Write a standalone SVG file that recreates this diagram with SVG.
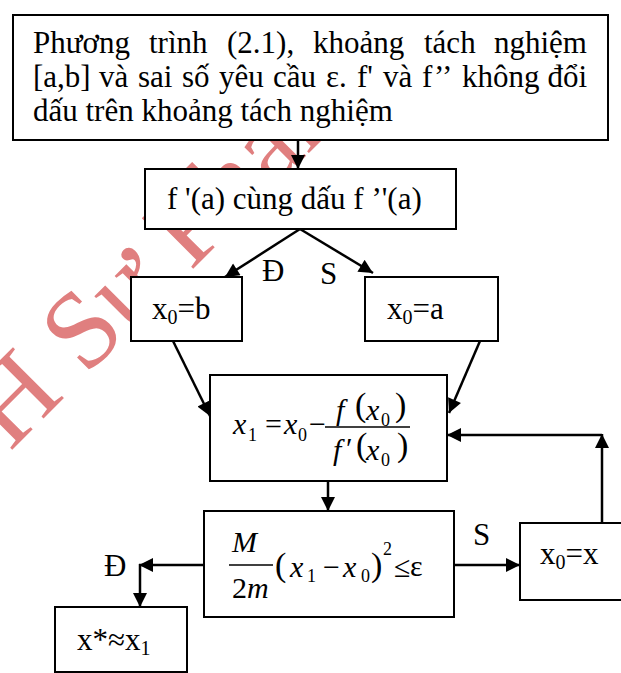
<svg xmlns="http://www.w3.org/2000/svg" width="621" height="673" viewBox="0 0 621 673">
<style>
.box{fill:#fff;stroke:#000;stroke-width:2}
.t{font-family:"Liberation Serif","Times New Roman",serif;font-size:31px;fill:#000}
.m{font-family:"Liberation Serif","Times New Roman",serif;font-size:30px;font-style:italic;fill:#000}
.u{font-family:"Liberation Serif","Times New Roman",serif;font-size:30px;fill:#000}
.s{font-family:"Liberation Serif","Times New Roman",serif;font-size:18px;fill:#000}
.p{font-family:"Liberation Serif","Times New Roman",serif;font-size:34px;fill:#000}
.edge{stroke:#000;stroke-width:2.5;fill:none}
.wm{font-family:"Liberation Serif","Times New Roman",serif;font-size:110px;fill:#e07f7f}
</style>
<defs>
<marker id="ah" viewBox="0 0 10 10" refX="10" refY="5" markerWidth="15" markerHeight="14" markerUnits="userSpaceOnUse" orient="auto"><path d="M0,0L10,5L0,10z" fill="#000"/></marker>
</defs>
<rect width="621" height="673" fill="#fff"/>
<g id="watermark"><text class="wm" transform="translate(10,452) rotate(-45)">H Sư Phạm</text></g>

<g id="connectors">
<path class="edge" d="M298,140V169" marker-end="url(#ah)"/>
<path class="edge" d="M300,229L225,277" marker-end="url(#ah)"/>
<path class="edge" d="M300,229L373,273" marker-end="url(#ah)"/>
<path class="edge" d="M173,341L210,416" marker-end="url(#ah)"/>
<path class="edge" d="M480,341L449,413" marker-end="url(#ah)"/>
<path class="edge" d="M328,481V511" marker-end="url(#ah)"/>
<path class="edge" d="M454,565H520" marker-end="url(#ah)"/>
<path class="edge" d="M204,565H139" marker-end="url(#ah)"/>
<path class="edge" d="M140,564V607" marker-end="url(#ah)"/>
<path class="edge" d="M602,523V434" marker-end="url(#ah)"/>
<path class="edge" d="M602,435H447" marker-end="url(#ah)"/>
<text class="t" x="262" y="281" font-size="30">Đ</text>
<text class="t" x="320" y="284" font-size="30">S</text>
<text class="t" x="473" y="545" font-size="30">S</text>
<text class="t" x="104" y="576" font-size="30">Đ</text>
</g>

<g id="n1">
<rect class="box" x="13" y="15" width="595" height="125"/>
<text class="t" y="53"><tspan x="33">Phương</tspan><tspan x="149">trình</tspan><tspan x="227">(2.1),</tspan><tspan x="313">khoảng</tspan><tspan x="424">tách</tspan></text>
<text class="t" y="53" x="587" text-anchor="end">nghiệm</text>
<text class="t" y="87"><tspan x="33">[a,b]</tspan><tspan x="99">và</tspan><tspan x="138">sai</tspan><tspan x="182">số</tspan><tspan x="219">yêu</tspan><tspan x="273">cầu</tspan><tspan x="326">ε.</tspan><tspan x="357">f'</tspan><tspan x="383">và</tspan><tspan x="422">f’’</tspan><tspan x="462">không</tspan></text>
<text class="t" y="87" x="587" text-anchor="end">đổi</text>
<text class="t" x="33" y="121">dấu trên khoảng tách nghiệm</text>
</g>

<g id="n2">
<rect class="box" x="145" y="169" width="311" height="60"/>
<text class="t" x="167" y="209" font-size="32">f '(a) cùng dấu f ’'(a)</text>
</g>

<g id="n3">
<rect class="box" x="131" y="277" width="111" height="64"/>
<text class="t" x="152" y="319" font-size="30">x<tspan font-size="20" dy="5">0</tspan><tspan dy="-5">=b</tspan></text>
</g>

<g id="n4">
<rect class="box" x="365" y="277" width="133" height="64"/>
<text class="t" x="387" y="319" font-size="30">x<tspan font-size="20" dy="5">0</tspan><tspan dy="-5">=a</tspan></text>
</g>

<g id="n5">
<rect class="box" x="210" y="375" width="237" height="106"/>
<text class="m" x="233" y="434">x</text>
<text class="s" x="248" y="441">1</text>
<text class="u" x="265" y="434">=</text>
<text class="m" x="284" y="434">x</text>
<text class="s" x="298" y="441">0</text>
<text class="u" x="309" y="434" font-size="27">−</text>
<line x1="325" y1="427" x2="410" y2="427" stroke="#000" stroke-width="1.3"/>
<text class="m" x="336" y="420">f</text>
<text class="p" x="355" y="416">(</text>
<text class="m" x="366" y="420">x</text>
<text class="s" x="381" y="426">0</text>
<text class="p" x="395" y="416">)</text>
<text class="m" x="333" y="460">f</text>
<text class="u" x="346" y="458">′</text>
<text class="p" x="356" y="456">(</text>
<text class="m" x="366" y="460">x</text>
<text class="s" x="381" y="466">0</text>
<text class="p" x="397" y="456">)</text>
</g>

<g id="n6">
<rect class="box" x="204" y="511" width="250" height="106"/>
<text class="m" x="232" y="552">M</text>
<line x1="229" y1="565" x2="273" y2="565" stroke="#000" stroke-width="1.3"/>
<text class="u" x="232" y="598">2</text>
<text class="m" x="247" y="598">m</text>
<text class="p" x="275" y="576">(</text>
<text class="m" x="290" y="577">x</text>
<text class="s" x="307" y="582">1</text>
<text class="u" x="323" y="577">−</text>
<text class="m" x="343" y="577">x</text>
<text class="s" x="361" y="582">0</text>
<text class="p" x="371" y="576">)</text>
<text class="s" x="383" y="555">2</text>
<text class="u" x="394" y="577">≤</text>
<text class="u" x="410" y="576" font-size="34">ε</text>
</g>

<g id="n7">
<rect class="box" x="520" y="523" width="103" height="77"/>
<text class="t" x="540" y="564" font-size="30">x<tspan font-size="20" dy="5">0</tspan><tspan dy="-5">=x</tspan></text>
</g>

<g id="n8">
<rect class="box" x="55" y="607" width="132" height="65"/>
<text class="t" x="77" y="650" font-size="30">x*≈x<tspan font-size="20" dy="5">1</tspan></text>
</g>
</svg>
